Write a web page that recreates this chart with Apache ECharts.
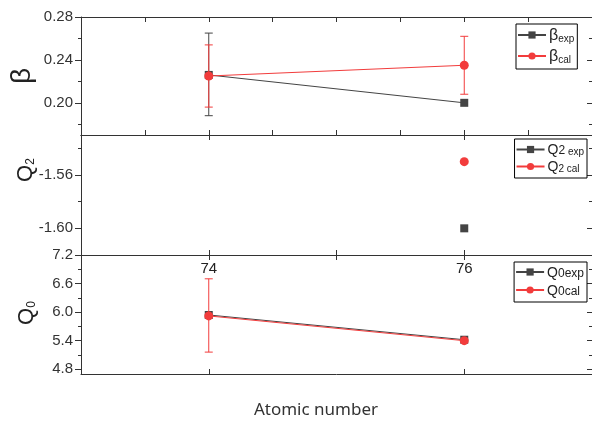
<!DOCTYPE html>
<html>
<head>
<meta charset="utf-8">
<script src="https://cdn.jsdelivr.net/npm/echarts@6/dist/echarts.min.js"></script>
<style>
html,body{margin:0;padding:0;background:#fff;}
#main{width:592px;height:421px;}
</style>
</head>
<body>
<div id="main"></div>
<script>
// atomic numbers on the x axis
var atomicNumbers = [74, 76];
var xHalfTicks = [73.5, 74, 74.5, 75, 75.5, 76, 76.5];
var xLabelTicks = [74, 76];

// beta
var betaExp = [0.226, 0.200];
var betaCal = [0.225, 0.235];
var betaExpErr = [[74, 0.188, 0.265]];  // x, low, high
var betaCalErr = [[74, 0.196, 0.254], [76, 0.208, 0.262]];
var betaTicks = [0.20, 0.24, 0.28];
var betaMinor = [0.18, 0.22, 0.26];

// Q2 (only Z=76)
var q2Exp = [null, -1.600];
var q2Cal = [null, -1.550];
var q2Ticks = [-1.60, -1.56];
var q2Minor = [-1.58, -1.54];

// Q0
var q0Exp = [5.94, 5.42];
var q0Cal = [5.92, 5.40];
var q0CalErr = [[74, 5.16, 6.70]];
var q0Ticks = [4.8, 5.4, 6.0, 6.6, 7.2];
var q0Minor = [5.1, 5.7, 6.3, 6.9];

var AX = '#333';
var RED = '#f23c3c';
var DARK = '#444';
var FONT = 'Liberation Sans';

function pairs(vals){
	var out = [];
	for (var i = 0; i < atomicNumbers.length; i++) {
		if (vals[i] !== null) out.push([atomicNumbers[i], vals[i]]);
	}
	return out;
}

// x axes for one panel
function xAx(grid, pos, ticks, labels){
	return {
		type: 'value', gridIndex: grid, position: pos, min: 73, max: 77,
		axisLine: {show: true, onZero: false, lineStyle: {color: AX, width: 1}},
		axisTick: {show: true, inside: true, length: 5, customValues: ticks, lineStyle: {color: AX}},
		axisLabel: labels ? {show: true, inside: true, margin: 6, customValues: labels, fontSize: 15, color: '#222', fontFamily: FONT} : {show: false},
		splitLine: {show: false}
	};
}

// y axes for one panel: left major (labels), left minor, right major, right minor
function yAxes(grid, min, max, major, minor, dec){
	var base = {type: 'value', gridIndex: grid, min: min, max: max, splitLine: {show: false}};
	var a = Object.assign({}, base, {
		position: 'left',
		axisLine: {show: true, onZero: false, lineStyle: {color: AX}},
		axisTick: {show: true, length: 6, customValues: major, lineStyle: {color: AX}},
		axisLabel: {show: true, customValues: major, margin: 8, fontSize: 15, color: '#333', fontFamily: FONT,
			formatter: function(v){ return v.toFixed(dec); }}
	});
	var b = Object.assign({}, base, {
		position: 'left',
		axisLine: {show: false},
		axisTick: {show: true, length: 3, customValues: minor, lineStyle: {color: AX}},
		axisLabel: {show: false}
	});
	var c = Object.assign({}, base, {
		position: 'right',
		axisLine: {show: true, onZero: false, lineStyle: {color: AX}},
		axisTick: {show: true, inside: true, length: 5, customValues: major, lineStyle: {color: AX}},
		axisLabel: {show: false}
	});
	var d = Object.assign({}, base, {
		position: 'right',
		axisLine: {show: false},
		axisTick: {show: true, inside: true, length: 3, customValues: minor, lineStyle: {color: AX}},
		axisLabel: {show: false}
	});
	return [a, b, c, d];
}

function errBars(name, xi, yi, data, color){
	return {
		name: name + ' err', type: 'custom', xAxisIndex: xi, yAxisIndex: yi,
		data: data, silent: true, z: 3,
		encode: {x: 0, y: [1, 2]},
		renderItem: function(params, api){
			var x = api.value(0);
			var top = api.coord([x, api.value(2)]);
			var bot = api.coord([x, api.value(1)]);
			var w = 4;
			var st = {stroke: color, lineWidth: 1};
			return {type: 'group', children: [
				{type: 'line', shape: {x1: top[0], y1: top[1], x2: bot[0], y2: bot[1]}, style: st},
				{type: 'line', shape: {x1: top[0] - w, y1: top[1], x2: top[0] + w, y2: top[1]}, style: st},
				{type: 'line', shape: {x1: bot[0] - w, y1: bot[1], x2: bot[0] + w, y2: bot[1]}, style: st}
			]};
		}
	};
}

function lineS(name, xi, yi, vals, isCal){
	return {
		name: name, type: 'line', xAxisIndex: xi, yAxisIndex: yi,
		data: pairs(vals),
		symbol: isCal ? 'circle' : 'rect',
		symbolSize: isCal ? 9 : 8,
		z: isCal ? 4 : 2,
		itemStyle: {color: isCal ? RED : DARK},
		lineStyle: {color: isCal ? RED : DARK, width: 1}
	};
}

var subLabels = {
	'βexp': '{m|β}{s|exp}',
	'βcal': '{m|β}{s|cal}',
	'Q2exp': '{m|Q}{s2|2}{s| exp}',
	'Q2cal': '{m|Q}{s|2 cal}',
	'Q0exp': '{m|Q}{s2|0exp}',
	'Q0cal': '{m|Q}{s2|0cal}'
};
function legRich(lh, mSize, s2Size){
	return {
		m: {fontSize: mSize, fontFamily: FONT, color: '#222', verticalAlign: 'bottom', lineHeight: lh},
		s: {fontSize: 10, fontFamily: FONT, color: '#222', verticalAlign: 'bottom', lineHeight: lh - 4},
		s2: {fontSize: s2Size, fontFamily: FONT, color: '#222', verticalAlign: 'bottom', lineHeight: lh - 4}
	};
}

function legend(names, pos, gap, lh, mSize, s2Size){
	return Object.assign({
		data: names, orient: 'vertical',
		itemWidth: 28, itemHeight: 9, itemGap: gap,
		borderColor: '#000', borderWidth: 1, padding: [4, 3, 4, 1],
		backgroundColor: '#fff',
		formatter: function(n){ return subLabels[n]; },
		textStyle: {rich: legRich(lh, mSize, s2Size), padding: [0, 0, 0, -2]}
	}, pos);
}

var myChart = echarts.init(document.getElementById('main'), null, {renderer: 'canvas'});

var grids = [
	{left: 81, right: -3, top: 17, height: 118},
	{left: 81, right: -3, top: 135, height: 120},
	{left: 81, right: -3, top: 255, height: 119}
];

var xAxes = [
	xAx(0, 'bottom', xHalfTicks),
	xAx(0, 'top', xHalfTicks),
	xAx(1, 'bottom', [74, 75, 76]),
	xAx(1, 'top', xLabelTicks),
	xAx(2, 'top', [74, 75, 76], xLabelTicks),
	xAx(2, 'bottom', xLabelTicks)
];

var yAll = [].concat(
	yAxes(0, 0.17, 0.28, betaTicks, betaMinor, 2),
	yAxes(1, -1.62, -1.53, q2Ticks, q2Minor, 2),
	yAxes(2, 4.7, 7.2, q0Ticks, q0Minor, 1)
);

var option = {
	animation: false,
	backgroundColor: '#fff',
	grid: grids,
	xAxis: xAxes,
	yAxis: yAll,
	legend: [
		legend(['βexp', 'βcal'], {left: 516, top: 24}, 5, 18, 16, 12),
		legend(['Q2exp', 'Q2cal'], {right: 5, top: 139}, 3, 15, 14, 12),
		legend(['Q0exp', 'Q0cal'], {right: 5, top: 262}, 4, 16, 14, 12)
	],
	graphic: [
		{type: 'text', x: 22, y: 76, rotation: Math.PI / 2,
			style: {text: 'β', fontSize: 28, fontFamily: FONT, fill: '#222', align: 'center', verticalAlign: 'middle'}},
		{type: 'text', x: 25, y: 170, rotation: Math.PI / 2,
			style: {text: '{q|Q}{n|2}', fill: '#222', align: 'center', verticalAlign: 'middle',
				rich: {q: {fontSize: 22, fontFamily: FONT, fill: '#222', verticalAlign: 'bottom', lineHeight: 24},
					n: {fontSize: 12, fontFamily: FONT, fill: '#222', verticalAlign: 'bottom', lineHeight: 14}}}},
		{type: 'text', x: 26, y: 313, rotation: Math.PI / 2,
			style: {text: '{q|Q}{n|0}', fill: '#222', align: 'center', verticalAlign: 'middle',
				rich: {q: {fontSize: 22, fontFamily: FONT, fill: '#222', verticalAlign: 'bottom', lineHeight: 24},
					n: {fontSize: 12, fontFamily: FONT, fill: '#222', verticalAlign: 'bottom', lineHeight: 14}}}},
		{type: 'text', x: 316, y: 410,
			style: {text: 'Atomic number', fontSize: 17, fontFamily: 'Noto Sans', fill: '#333', align: 'center', verticalAlign: 'middle'}}
	],
	series: [
		lineS('βexp', 0, 0, betaExp, false),
		errBars('βexp', 0, 0, betaExpErr, DARK),
		lineS('βcal', 0, 0, betaCal, true),
		errBars('βcal', 0, 0, betaCalErr, RED),
		lineS('Q2exp', 2, 4, q2Exp, false),
		lineS('Q2cal', 2, 4, q2Cal, true),
		lineS('Q0exp', 4, 8, q0Exp, false),
		lineS('Q0cal', 4, 8, q0Cal, true),
		errBars('Q0cal', 4, 8, q0CalErr, RED)
	]
};
myChart.setOption(option);
</script>
</body>
</html>
